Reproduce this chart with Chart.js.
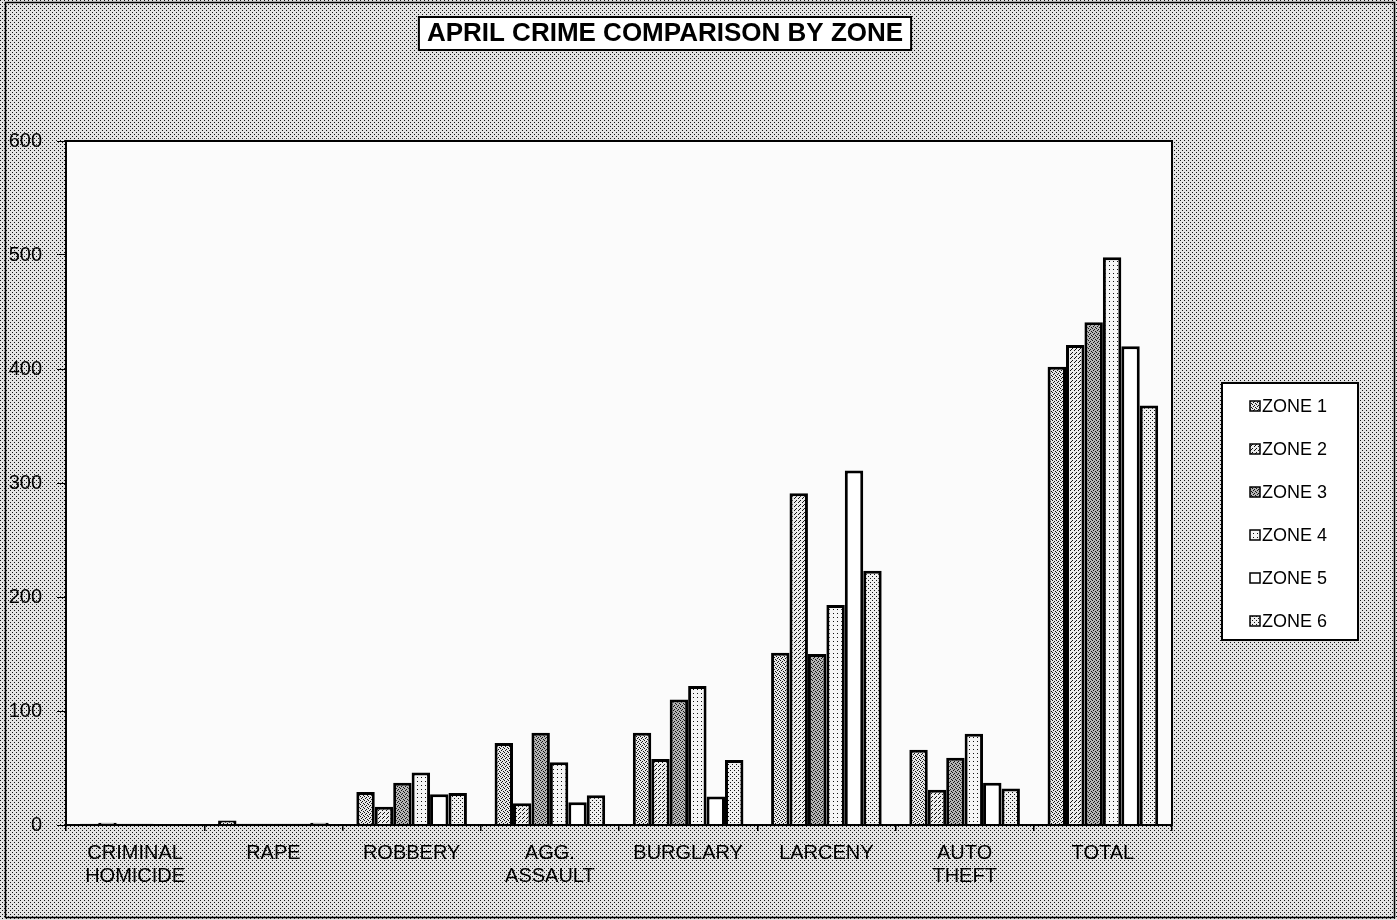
<!DOCTYPE html>
<html lang="en">
<head>
  <meta charset="UTF-8">
  <title>April Crime Comparison by Zone</title>
  <script src="https://cdn.jsdelivr.net/npm/chart.js"></script>
  <style>
    body { margin: 0; background: #c8c8c8; }
    canvas { display: block; }
  </style>
</head>
<body>
<canvas id="crimeChart" width="1397" height="920"></canvas>
<script>
  const categories = [['CRIMINAL', 'HOMICIDE'], 'RAPE', 'ROBBERY', ['AGG.', 'ASSAULT'], 'BURGLARY', 'LARCENY', ['AUTO', 'THEFT'], 'TOTAL'];
  const zoneNames = ['ZONE 1', 'ZONE 2', 'ZONE 3', 'ZONE 4', 'ZONE 5', 'ZONE 6'];
  const zone1 = [1, 4, 29, 72, 81, 151, 66, 402];
  const zone2 = [2, 1, 16, 19, 58, 291, 31, 421];
  const zone3 = [1, 1, 37, 81, 110, 150, 59, 441];
  const zone4 = [1, 1, 46, 55, 122, 193, 80, 498];
  const zone5 = [0, 1, 27, 20, 25, 311, 37, 420];
  const zone6 = [0, 2, 28, 26, 57, 223, 32, 368];
  const yTicks = [0, 100, 200, 300, 400, 500, 600];

  const FONT = '"Liberation Sans", Arial, sans-serif';

  // stipple fills like the photocopied original
  function stipple(bg, dots) {
    const c = document.createElement('canvas');
    c.width = 4; c.height = 4;
    const g = c.getContext('2d');
    g.fillStyle = bg; g.fillRect(0, 0, 4, 4);
    g.fillStyle = '#111';
    dots.forEach(([x, y]) => g.fillRect(x, y, 1, 1));
    return g.createPattern(c, 'repeat');
  }
  const fills = [
    stipple('#e6e6e6', [[0, 0], [2, 1], [1, 2], [3, 3]]),
    stipple('#ececec', [[0, 0], [2, 2], [3, 1]]),
    stipple('#b4b4b4', [[0, 0], [2, 1], [1, 2], [3, 3]]),
    stipple('#f6f6f6', [[1, 1]]),
    '#ffffff',
    stipple('#efefef', [[0, 0], [2, 2]])
  ];
  const bgFill = stipple('#e2e2e2', [[0, 0], [2, 2]]);

  const frame = {
    id: 'frame',
    beforeDraw(chart) {
      const ctx = chart.ctx, a = chart.chartArea;
      ctx.save();
      ctx.fillStyle = bgFill;
      ctx.fillRect(0, 0, chart.width, chart.height);
      ctx.fillStyle = '#fbfbfb';
      ctx.fillRect(a.left, a.top, a.right - a.left, a.bottom - a.top);
      ctx.strokeStyle = '#000';
      ctx.lineWidth = 1.5;
      ctx.strokeRect(5.5, 2.5, chart.width - 8, chart.height - 5);
      ctx.restore();
    },
    afterDraw(chart) {
      const ctx = chart.ctx, a = chart.chartArea;
      ctx.save();
      ctx.strokeStyle = '#000';
      ctx.lineWidth = 2;
      ctx.strokeRect(a.left, a.top, a.right - a.left, a.bottom - a.top);

      // title in a box
      ctx.font = 'bold 26px ' + FONT;
      const title = 'APRIL CRIME COMPARISON BY ZONE';
      const tw = ctx.measureText(title).width;
      const cx = 665, cy = 33;
      ctx.fillStyle = '#fff';
      ctx.fillRect(cx - tw / 2 - 8, cy - 16, tw + 16, 33);
      ctx.strokeRect(cx - tw / 2 - 8, cy - 16, tw + 16, 33);
      ctx.fillStyle = '#000';
      ctx.textAlign = 'center';
      ctx.textBaseline = 'middle';
      ctx.fillText(title, cx, cy + 1);

      // legend box
      const lx = 1222, ly = 383, lw = 136, lh = 257;
      ctx.fillStyle = '#fff';
      ctx.fillRect(lx, ly, lw, lh);
      ctx.lineWidth = 2;
      ctx.strokeRect(lx, ly, lw, lh);
      ctx.font = '18px ' + FONT;
      ctx.textAlign = 'left';
      chart.data.datasets.forEach((ds, i) => {
        const y = 406 + i * 43;
        ctx.fillStyle = ds.backgroundColor;
        ctx.fillRect(1250, y - 5, 10, 10);
        ctx.lineWidth = 1.5;
        ctx.strokeRect(1250, y - 5, 10, 10);
        ctx.fillStyle = '#000';
        ctx.fillText(ds.label, 1262, y + 1);
      });
      ctx.restore();
    }
  };

  const series = [zone1, zone2, zone3, zone4, zone5, zone6];

  new Chart(document.getElementById('crimeChart'), {
    type: 'bar',
    data: {
      labels: categories,
      datasets: series.map((d, i) => ({
        label: zoneNames[i],
        data: d,
        backgroundColor: fills[i],
        borderColor: '#000',
        borderWidth: 3,
        categoryPercentage: 0.8,
        barPercentage: 1.0
      }))
    },
    options: {
      responsive: false,
      animation: false,
      layout: { padding: { top: 141, right: 225, left: 0, bottom: 0 } },
      plugins: {
        legend: { display: false },
        title: { display: false },
        tooltip: { enabled: false }
      },
      scales: {
        x: {
          afterFit: s => { s.height = 95; },
          grid: { display: true, drawOnChartArea: false, offset: true, tickLength: 6, color: '#000', lineWidth: 1.5 },
          border: { color: '#000', width: 2 },
          ticks: { color: '#000', padding: 11, maxRotation: 0, autoSkip: false, font: { family: FONT, size: 20, lineHeight: 1.15 } }
        },
        y: {
          min: 0, max: 600,
          afterFit: s => { s.width = 66; },
          afterBuildTicks: s => { s.ticks = yTicks.map(v => ({ value: v })); },
          grid: { display: true, drawOnChartArea: false, tickLength: 9, color: '#000', lineWidth: 1 },
          border: { color: '#000', width: 2 },
          ticks: { color: '#000', padding: 15, font: { family: FONT, size: 20 } }
        }
      }
    },
    plugins: [frame]
  });
</script>
</body>
</html>
